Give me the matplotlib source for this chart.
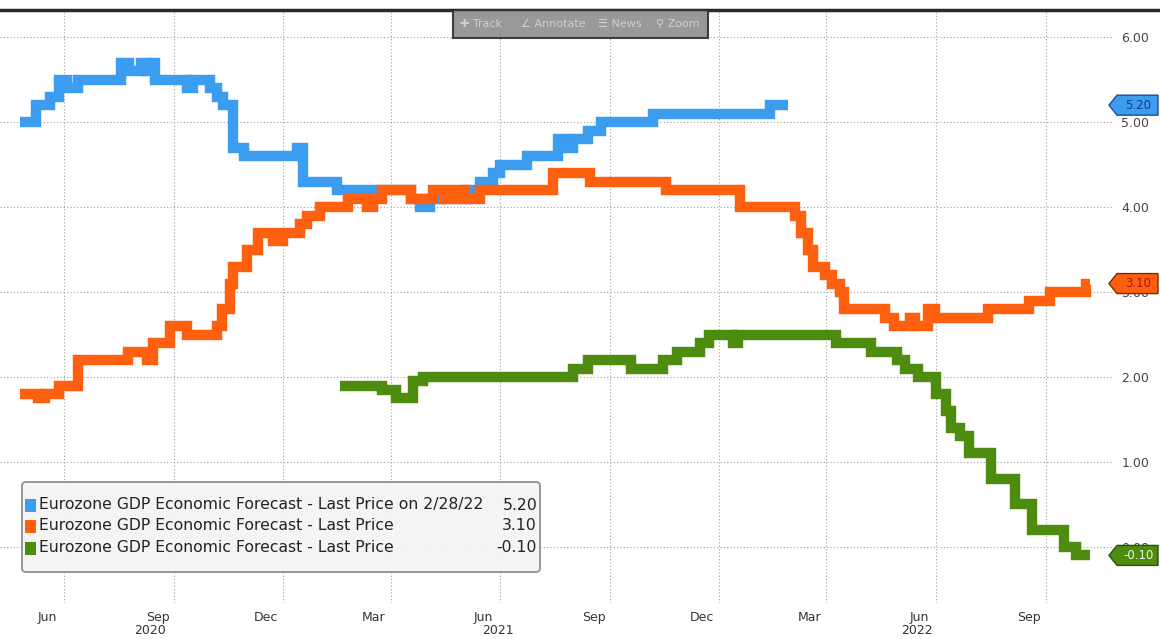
import matplotlib
matplotlib.use("Agg")
import matplotlib.pyplot as plt
import matplotlib.dates as mdates
from matplotlib.patches import FancyBboxPatch, Rectangle, Polygon
from matplotlib.lines import Line2D
from matplotlib.transforms import IdentityTransform, blended_transform_factory
from matplotlib import font_manager
import pandas as pd

# ---------------- data ----------------
blue_dates = ['2020-04-25', '2020-05-08', '2020-05-20', '2020-05-27', '2020-06-03', '2020-06-12',
              '2020-07-18', '2020-07-25', '2020-08-04', '2020-08-09', '2020-08-13', '2020-08-16',
              '2020-09-12', '2020-09-17', '2020-10-01', '2020-10-07', '2020-10-12', '2020-10-20',
              '2020-10-29', '2020-12-13', '2020-12-18', '2021-01-15', '2021-03-18', '2021-03-26',
              '2021-04-03', '2021-05-04', '2021-05-15', '2021-05-26', '2021-06-01', '2021-06-23',
              '2021-07-19', '2021-07-24', '2021-08-01', '2021-08-13', '2021-08-24', '2021-10-07',
              '2022-01-13', '2022-01-28']
blue_vals = [5.0, 5.2, 5.3, 5.5, 5.4, 5.5, 5.7, 5.6, 5.7, 5.6,
             5.7, 5.5, 5.4, 5.5, 5.4, 5.3, 5.2, 4.7, 4.6, 4.7,
             4.3, 4.2, 4.1, 4.0, 4.1, 4.2, 4.3, 4.4, 4.5, 4.6,
             4.8, 4.7, 4.8, 4.9, 5.0, 5.1, 5.2, 5.2]

orange_dates = ['2020-04-25', '2020-05-10', '2020-05-16', '2020-05-27', '2020-06-12', '2020-07-24',
                '2020-08-09', '2020-08-14', '2020-08-28', '2020-09-12', '2020-10-07', '2020-10-11',
                '2020-10-18', '2020-10-20', '2020-11-01', '2020-11-10', '2020-11-23', '2020-12-01',
                '2020-12-15', '2020-12-21', '2021-01-01', '2021-01-24', '2021-02-09', '2021-02-14',
                '2021-02-22', '2021-03-18', '2021-04-06', '2021-04-16', '2021-04-24', '2021-05-02',
                '2021-05-15', '2021-07-15', '2021-08-15', '2021-10-18', '2021-12-19', '2022-02-03',
                '2022-02-08', '2022-02-14', '2022-02-18', '2022-02-28', '2022-03-06', '2022-03-12',
                '2022-03-16', '2022-04-19', '2022-04-27', '2022-05-10', '2022-05-14', '2022-05-25',
                '2022-05-31', '2022-07-14', '2022-08-18', '2022-09-04', '2022-10-04', '2022-10-08']
orange_vals = [1.8, 1.75, 1.8, 1.9, 2.2, 2.3, 2.2, 2.4, 2.6, 2.5,
               2.6, 2.8, 3.1, 3.3, 3.5, 3.7, 3.6, 3.7, 3.8, 3.9,
               4.0, 4.1, 4.0, 4.1, 4.2, 4.1, 4.2, 4.1, 4.2, 4.1,
               4.2, 4.4, 4.3, 4.2, 4.0, 3.9, 3.7, 3.5, 3.3, 3.2,
               3.1, 3.0, 2.8, 2.7, 2.6, 2.7, 2.6, 2.8, 2.7, 2.8,
               2.9, 3.0, 3.1, 3.1]

green_dates = ['2021-01-18', '2021-02-22', '2021-03-06', '2021-03-20', '2021-03-28', '2021-08-01',
               '2021-08-13', '2021-09-18', '2021-10-15', '2021-10-27', '2021-11-15', '2021-11-23',
               '2021-12-13', '2021-12-17', '2022-03-09', '2022-04-07', '2022-04-29', '2022-05-06',
               '2022-05-17', '2022-06-01', '2022-06-09', '2022-06-13', '2022-06-21', '2022-06-28',
               '2022-07-17', '2022-08-06', '2022-08-20', '2022-09-16', '2022-09-26', '2022-10-08']
green_vals = [1.9, 1.85, 1.75, 1.95, 2.0, 2.1, 2.2, 2.1, 2.2, 2.3,
              2.4, 2.5, 2.4, 2.5, 2.4, 2.3, 2.2, 2.1, 2.0, 1.8,
              1.6, 1.4, 1.3, 1.1, 0.8, 0.5, 0.2, 0.0, -0.1, -0.1]

series_labels = ['Eurozone GDP Economic Forecast - Last Price on 2/28/22',
                 'Eurozone GDP Economic Forecast - Last Price',
                 'Eurozone GDP Economic Forecast - Last Price']
last_values = [5.20, 3.10, -0.10]

grid_dates = ['2020-06-01', '2020-09-01', '2020-12-01', '2021-03-01', '2021-06-01',
              '2021-09-01', '2021-12-01', '2022-03-01', '2022-06-01', '2022-09-01']
month_labels = ['Jun', 'Sep', 'Dec', 'Mar', 'Jun', 'Sep', 'Dec', 'Mar', 'Jun', 'Sep']
year_labels = ['2020', '2021', '2022']
year_dates = ['2020-08-12', '2021-05-30', '2022-05-16']
ytick_vals = [0, 1, 2, 3, 4, 5, 6]

# ---------------- style ----------------
W, H, DPI = 1160, 639, 100
installed = {f.name for f in font_manager.fontManager.ttflist}
narrow = 'Liberation Sans Narrow' if 'Liberation Sans Narrow' in installed else 'DejaVu Sans'
plt.rcParams['font.family'] = [narrow, 'DejaVu Sans']

c_blue, c_orange, c_green = '#3c9cf0', '#ff6010', '#4e8c10'
colors = [c_blue, c_orange, c_green]

fig = plt.figure(figsize=(W / DPI, H / DPI), dpi=DPI, facecolor='white')


def px_rect(x0, y0, x1, y1):
    return [x0 / W, 1 - y1 / H, (x1 - x0) / W, (y1 - y0) / H]


ax = fig.add_axes(px_rect(0, 10, 1113, 603))
ax.set_facecolor('white')

for d, v, c in [(blue_dates, blue_vals, c_blue),
                (orange_dates, orange_vals, c_orange),
                (green_dates, green_vals, c_green)]:
    ax.plot(pd.to_datetime(d), v, drawstyle='steps-post', color=c, lw=7.5,
            solid_joinstyle='miter', solid_capstyle='butt', zorder=3)

xmin, xmax = pd.Timestamp('2020-04-08'), pd.Timestamp('2022-10-27')
ax.set_xlim(xmin, xmax)
ax.set_ylim(-0.66, 6.32)

# grid (major ticks at quarter starts, no labels)
ax.set_xticks(pd.to_datetime(grid_dates))
ax.set_xticklabels([])
ax.tick_params(axis='x', which='major', length=0)
lab_pos = pd.to_datetime(grid_dates) - pd.Timedelta(days=14)
ax.set_xticks(lab_pos, minor=True)
ax.set_xticklabels(month_labels, minor=True)
ax.tick_params(axis='x', which='minor', length=0, pad=6, labelsize=9, labelcolor='#333333')

ax.set_yticks(ytick_vals)
ax.set_yticklabels([f'{v:.2f}' for v in ytick_vals])
ax.yaxis.tick_right()
ax.tick_params(axis='y', length=0, pad=6, labelsize=9, labelcolor='#444444')

ax.grid(True, which='major', linestyle=(0, (1, 2)), color='#a0a0a0', lw=0.8, zorder=0)
for s in ax.spines.values():
    s.set_visible(False)

trans_xa = blended_transform_factory(ax.transData, ax.transAxes)
for yl, yd in zip(year_labels, year_dates):
    ax.text(pd.Timestamp(yd), -0.047, yl, transform=trans_xa, ha='center', va='center',
            fontsize=9, color='#333333', clip_on=False)

# top dark bar
fig.add_artist(Line2D([0, 1], [1 - 10 / H] * 2, transform=fig.transFigure,
                      color='#2a2a2a', lw=2.5))

# toolbar overlay
fig.add_artist(Rectangle((453, H - 38), 255, 28, transform=IdentityTransform(),
                         fc='#8e8e8e', ec='#2e2e2e', lw=1.5, alpha=0.9, zorder=8))
for tx, txt in [(481, '✚ Track'), (553, '∠ Annotate'), (620, '☰ News'), (678, '⚲ Zoom')]:
    fig.text(tx / W, 1 - 24 / H, txt, ha='center', va='center', fontsize=8,
             color='#cfcfcf', zorder=9, family=['DejaVu Sans'])

# value tags on right axis
tag_styles = [(c_blue, '#1c4f8c', '#1a3a90'),
              (c_orange, '#7a2a00', '#b00e00'),
              (c_green, '#2c5208', '#eef4e2')]
for val, (fc, ec, tc) in zip(last_values, tag_styles):
    yd = ax.transData.transform((0, val))[1]
    x_tip, x0, x1, h = 1109, 1117, 1158, 10
    fig.add_artist(Polygon([[x_tip, yd], [x0, yd + h], [x1, yd + h], [x1, yd - h], [x0, yd - h]],
                           closed=True, transform=IdentityTransform(), fc=fc, ec=ec, lw=1,
                           zorder=10))
    fig.text(((x0 + x1) / 2 + 1) / W, yd / H, f'{val:.2f}', ha='center', va='center',
             fontsize=8.5, color=tc, zorder=11)

# legend (manual)
renderer = fig.canvas.get_renderer()
probe = fig.text(0, 0, series_labels[1], fontsize=10)
wprobe = probe.get_window_extent(renderer).width
probe.remove()
leg_fs = 10 * 355 / wprobe

fig.add_artist(FancyBboxPatch((22, H - 572), 518, 90, boxstyle='round,pad=0,rounding_size=4',
                              transform=IdentityTransform(), fc='#f4f4f4', ec='#8a8a8a',
                              lw=1.3, alpha=0.95, zorder=6))
row_y = [505, 526, 548]
for yy, lab, val, c in zip(row_y, series_labels, last_values, colors):
    fig.add_artist(Rectangle((25, H - yy - 6.5), 11, 13, transform=IdentityTransform(),
                             fc=c, ec='none', zorder=7))
    fig.text(39 / W, 1 - yy / H, lab, ha='left', va='center', fontsize=leg_fs,
             color='#222222', zorder=7)
    fig.text(537 / W, 1 - yy / H, f'{val:.2f}', ha='right', va='center', fontsize=leg_fs,
             color='#222222', zorder=7)

fig.savefig('out.png', dpi=DPI, facecolor='white')
